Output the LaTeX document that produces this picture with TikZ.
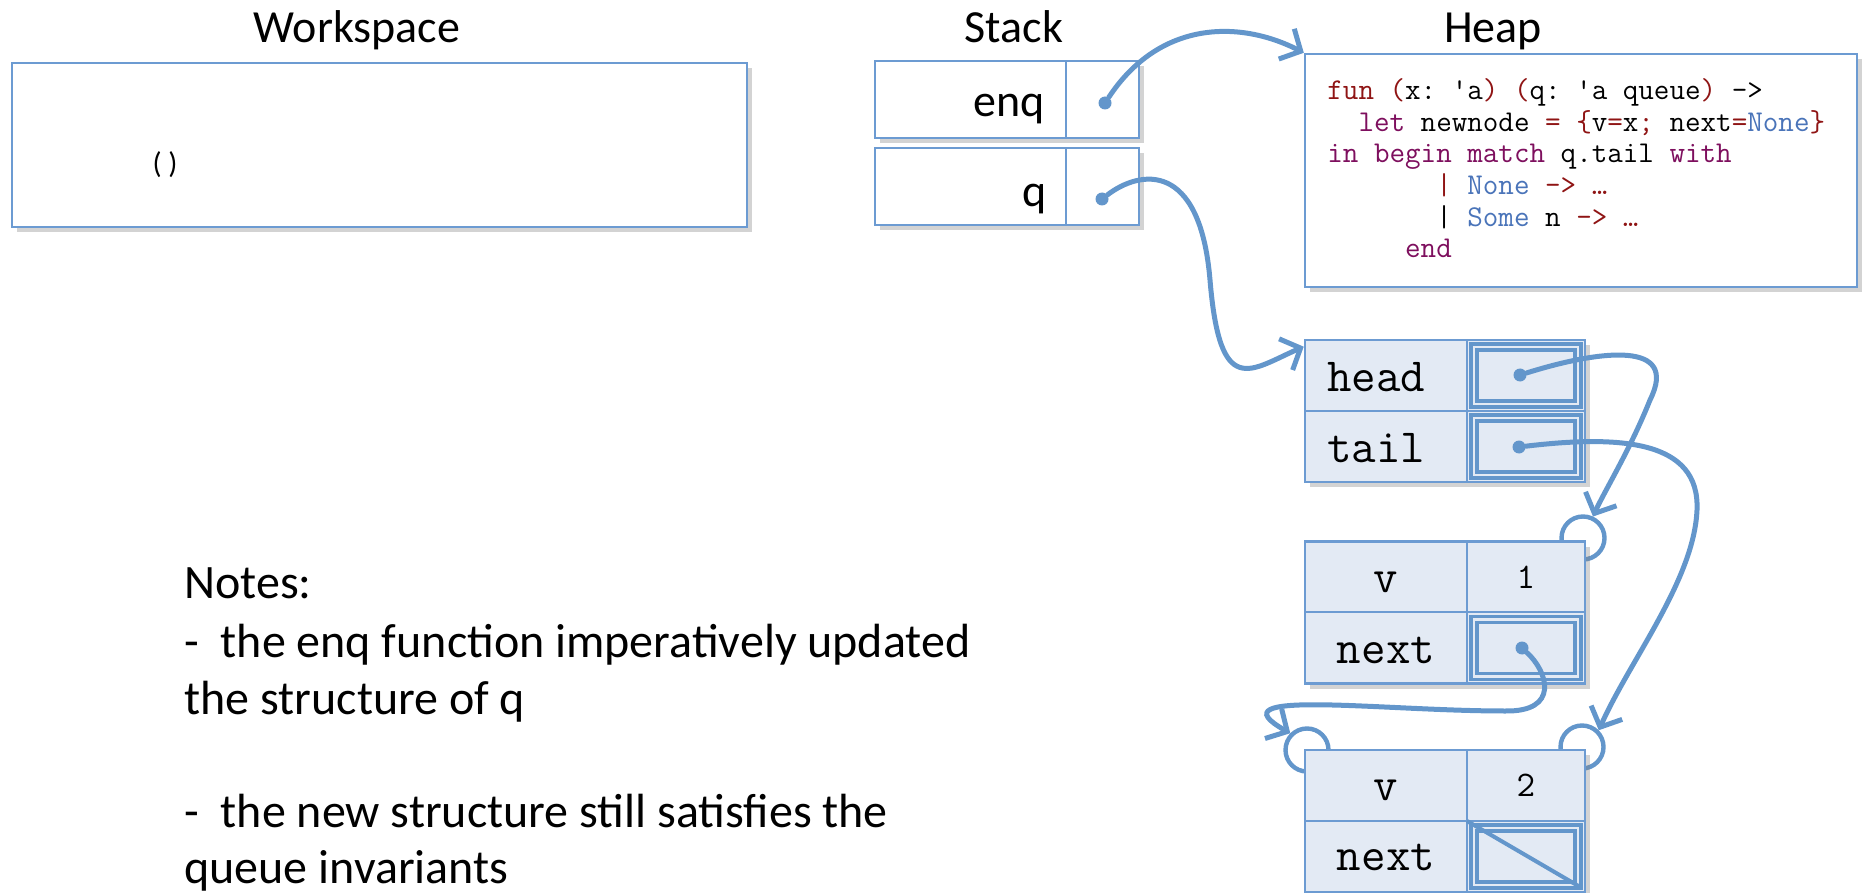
\documentclass[tikz,border=0pt]{standalone}
\usepackage{fontspec}
\setmainfont{Carlito}
\usetikzlibrary{arrows.meta,shadows}
\definecolor{boxblue}{HTML}{6C9BD2}
\definecolor{ptrblue}{HTML}{6396CB}
\definecolor{cellfill}{HTML}{E3EAF4}
\definecolor{codered}{HTML}{8F1414}
\definecolor{codepurple}{HTML}{7E0F5E}
\definecolor{codeblue}{HTML}{4A74B9}
\newcommand{\redtok}[1]{\textcolor{codered}{#1}}
\newcommand{\purtok}[1]{\textcolor{codepurple}{#1}}
\newcommand{\blutok}[1]{\textcolor{codeblue}{#1}}
\newcommand{\qtick}{\textquotesingle}

\begin{document}
\begin{tikzpicture}[x=0.5pt,y=-0.5pt,
  areatitle/.style={font=\fontsize{23}{28}\selectfont,anchor=base,inner sep=0pt},
  notetext/.style={font=\fontsize{24}{29}\selectfont,anchor=base west,inner sep=0pt},
  membox/.style={draw=boxblue,line width=1.2pt,fill=white,inner sep=0pt,
    drop shadow={shadow xshift=2.5pt,shadow yshift=-2.5pt,opacity=0.35}},
  strct/.style={draw=boxblue,line width=1.3pt,fill=cellfill,inner sep=0pt,
    minimum width=140pt,minimum height=71pt,
    drop shadow={shadow xshift=2.5pt,shadow yshift=-2.5pt,opacity=0.35}},
  divline/.style={draw=boxblue,line width=1.2pt},
  ptrfield/.style={draw=ptrblue,fill=cellfill,double=cellfill,line width=1.8pt,
    double distance=1.2pt,inner sep=0pt,minimum width=52pt,minimum height=28.5pt},
  ptrport/.style={circle,draw=ptrblue,line width=2.2pt,minimum size=21.5pt,inner sep=0pt},
  ptrdot/.style={circle,fill=ptrblue,minimum size=6.5pt,inner sep=0pt},
  ptr/.style={draw=ptrblue,line width=2.5pt,line cap=round,
    -{Straight Barb[length=8pt,width=17pt]}},
  codeline/.style={font=\ttfamily\fontsize{15.1}{18}\selectfont\frenchspacing,
    anchor=base west,inner sep=0pt},
  fld/.style={font=\ttfamily\fontsize{23.8}{28}\selectfont,inner sep=0pt},
  num/.style={font=\ttfamily\fontsize{18}{21}\selectfont,anchor=base,inner sep=0pt}]
  \useasboundingbox (0,0) rectangle (1864,893);

  % titles
  \node[areatitle] (wstitle) at (357,43) {Workspace};
  \node[areatitle] (sttitle) at (1014,43) {Stack};
  \node[areatitle] (hptitle) at (1493,43) {Heap};

  % workspace
  \node[membox,minimum width=367.5pt,minimum height=82pt] (ws) at (379.5,145) {};
  \node[font=\fontsize{15}{18}\selectfont,inner sep=0pt] (unitval) at (165,165) {( )};

  % stack
  \node[membox,minimum width=132pt,minimum height=38.5pt] (enqbox) at (1007,99.5) {};
  \draw[divline] (1066,61) -- (1066,138);
  \node[areatitle,anchor=base east] (enqlbl) at (1045,117) {enq};
  \node[membox,minimum width=132pt,minimum height=38.5pt] (qbox) at (1007,186.5) {};
  \draw[divline] (1066,148) -- (1066,225);
  \node[areatitle,anchor=base east] (qlbl) at (1047,207) {q};
  \node[ptrdot] (enqdot) at (1105,103) {};
  \node[ptrdot] (qdot) at (1102,199) {};

  % heap: the enq closure
  \node[membox,minimum width=276pt,minimum height=116.5pt] (heap) at (1581,170.5) {};
  \node[codeline] (code1) at (1327,100)
    {\redtok{fun} \redtok{(}x: \qtick a\redtok{)} \redtok{(}q: \qtick a queue\redtok{)} ->};
  \node[codeline] (code2) at (1327,131.6)
    {\phantom{xx}\purtok{let} newnode \redtok{=} \redtok{\{}v\redtok{=}x\redtok{;} next\redtok{=}\blutok{None}\redtok{\}}};
  \node[codeline] (code3) at (1327,163)
    {\purtok{in} \purtok{begin} \purtok{match} q.tail \purtok{with}};
  \node[codeline] (code4) at (1327,195)
    {\phantom{xxxxxxx}\redtok{|} \blutok{None} \redtok{-> \textellipsis}};
  \node[codeline] (code5) at (1327,227)
    {\phantom{xxxxxxx}| \blutok{Some} n \redtok{-> \textellipsis}};
  \node[codeline] (code6) at (1327,258) {\phantom{xxxxx}\purtok{end}};

  % ports (drawn first, the records hide their inner half)
  \node[ptrport] (n1port) at (1583,538) {};
  \node[ptrport] (n2lport) at (1307,750) {};
  \node[ptrport] (n2rport) at (1582,747) {};

  % queue record
  \node[strct] (qrec) at (1445,411) {};
  \draw[divline] (1305,411) -- (1585,411);
  \draw[divline] (1467,340) -- (1467,482);
  \node[ptrfield] (headf) at (1526,375.5) {};
  \node[ptrfield] (tailf) at (1526,446.5) {};
  \node[fld,anchor=base west] (headlbl) at (1327,392) {head};
  \node[fld,anchor=base west] (taillbl) at (1327,462) {tail};
  \node[ptrdot] (headdot) at (1520,375) {};
  \node[ptrdot] (taildot) at (1519,447) {};

  % first qnode
  \node[strct] (qn1) at (1445,612.5) {};
  \draw[divline] (1305,612) -- (1585,612);
  \draw[divline] (1467,542) -- (1467,683);
  \node[ptrfield] (next1f) at (1526,648) {};
  \node[fld,anchor=base] (v1lbl) at (1386,592) {v};
  \node[fld,anchor=base] (next1lbl) at (1386,663) {next};
  \node[num] (val1) at (1526,588) {1};
  \node[ptrdot] (nextdot) at (1522,648) {};

  % second qnode
  \node[strct] (qn2) at (1445,821) {};
  \draw[divline] (1305,821) -- (1585,821);
  \draw[divline] (1467,750) -- (1467,892);
  \node[ptrfield] (next2f) at (1526,856.5) {};
  \draw[ptrblue,line width=2pt] (1467,821) -- (next2f.south east);
  \node[fld,anchor=base] (v2lbl) at (1386,800) {v};
  \node[fld,anchor=base] (next2lbl) at (1386,870) {next};
  \node[num] (val2) at (1526,796) {2};

  % pointers
  \draw[ptr] (enqdot) .. controls (1160,20) and (1240,20) .. (heap.north west);
  \draw[ptr] (qdot) .. controls (1140,170) and (1200,160) .. (1210,280)
    .. controls (1220,400) and (1250,370) .. ([yshift=-4pt]qrec.north west);
  \draw[ptr] (headdot) .. controls (1600,350) and (1680,340) .. (1650,400)
    .. controls (1630,450) and (1605,490) .. (n1port.65);
  \draw[ptr] (taildot) .. controls (1620,435) and (1700,440) .. (1697,510)
    .. controls (1694,580) and (1630,660) .. (n2rport.45);
  \draw[ptr] (nextdot) .. controls (1548,672) and (1560,712) .. (1505,711)
    .. controls (1380,711) and (1210,688) .. (n2lport.135);

  % notes
  \node[notetext] (note1) at (184,598) {Notes:};
  \node[notetext] (note2) at (184,657) {-~ the enq function imperatively updated};
  \node[notetext] (note3) at (184,714) {the structure of q};
  \node[notetext] (note4) at (184,827) {-~ the new structure still satisfies the};
  \node[notetext] (note5) at (184,883) {queue invariants};
\end{tikzpicture}
\end{document}
